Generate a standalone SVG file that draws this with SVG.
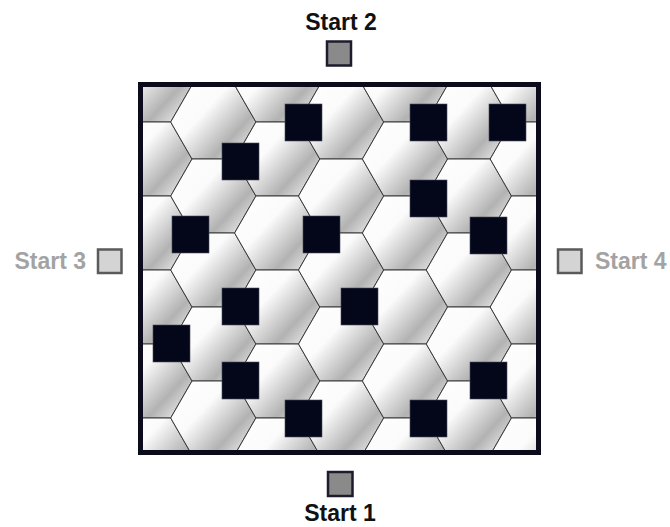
<svg xmlns="http://www.w3.org/2000/svg" xmlns:xlink="http://www.w3.org/1999/xlink" width="670" height="527" viewBox="0 0 670 527">
<style>
.hex{stroke:#3a3a3a;stroke-width:1}
.blk{fill:#04061a;stroke:#4a4a5a;stroke-width:0.6}
.lbl{font-family:"Liberation Sans",Arial,sans-serif;font-weight:bold;font-size:23px}
.dark{fill:#111111}
.light{fill:#a3a3a3}
</style>
<defs>
<linearGradient id="g1" x1="0" y1="0" x2="1" y2="0.8">
<stop offset="0" stop-color="#ffffff"/>
<stop offset="0.42" stop-color="#fbfbfb"/>
<stop offset="0.78" stop-color="#b2b2b2"/>
<stop offset="1" stop-color="#e8e8e8"/>
</linearGradient>
<path id="h" d="M42.6,0 L21.3,37 L-21.3,37 L-42.6,0 L-21.3,-37 L21.3,-37 Z" fill="url(#g1)" class="hex"/>
<clipPath id="fr"><rect x="143" y="87" width="393" height="363"/></clipPath>
</defs>
<rect width="670" height="527" fill="#ffffff"/>
<g id="tiles" clip-path="url(#fr)">
<use xlink:href="#h" x="149.4" y="85"/><use xlink:href="#h" x="149.4" y="159"/><use xlink:href="#h" x="149.4" y="233"/><use xlink:href="#h" x="149.4" y="307"/><use xlink:href="#h" x="149.4" y="381"/><use xlink:href="#h" x="149.4" y="455"/>
<use xlink:href="#h" x="213.3" y="122"/><use xlink:href="#h" x="213.3" y="196"/><use xlink:href="#h" x="213.3" y="270"/><use xlink:href="#h" x="213.3" y="344"/><use xlink:href="#h" x="213.3" y="418"/>
<use xlink:href="#h" x="277.2" y="85"/><use xlink:href="#h" x="277.2" y="159"/><use xlink:href="#h" x="277.2" y="233"/><use xlink:href="#h" x="277.2" y="307"/><use xlink:href="#h" x="277.2" y="381"/><use xlink:href="#h" x="277.2" y="455"/>
<use xlink:href="#h" x="341.1" y="122"/><use xlink:href="#h" x="341.1" y="196"/><use xlink:href="#h" x="341.1" y="270"/><use xlink:href="#h" x="341.1" y="344"/><use xlink:href="#h" x="341.1" y="418"/>
<use xlink:href="#h" x="405" y="85"/><use xlink:href="#h" x="405" y="159"/><use xlink:href="#h" x="405" y="233"/><use xlink:href="#h" x="405" y="307"/><use xlink:href="#h" x="405" y="381"/><use xlink:href="#h" x="405" y="455"/>
<use xlink:href="#h" x="468.9" y="122"/><use xlink:href="#h" x="468.9" y="196"/><use xlink:href="#h" x="468.9" y="270"/><use xlink:href="#h" x="468.9" y="344"/><use xlink:href="#h" x="468.9" y="418"/>
<use xlink:href="#h" x="532.8" y="85"/><use xlink:href="#h" x="532.8" y="159"/><use xlink:href="#h" x="532.8" y="233"/><use xlink:href="#h" x="532.8" y="307"/><use xlink:href="#h" x="532.8" y="381"/><use xlink:href="#h" x="532.8" y="455"/>
</g>
<g id="obstacles">
<rect class="blk" x="285" y="104" width="37" height="37"/>
<rect class="blk" x="410" y="104" width="37" height="37"/>
<rect class="blk" x="489" y="104" width="37" height="37"/>
<rect class="blk" x="222" y="143" width="37" height="37"/>
<rect class="blk" x="410" y="180" width="37" height="37"/>
<rect class="blk" x="172" y="216" width="37" height="37"/>
<rect class="blk" x="303" y="216" width="37" height="37"/>
<rect class="blk" x="470" y="217" width="37" height="37"/>
<rect class="blk" x="222" y="288" width="37" height="37"/>
<rect class="blk" x="341" y="288" width="37" height="37"/>
<rect class="blk" x="153" y="325" width="37" height="37"/>
<rect class="blk" x="222" y="362" width="37" height="37"/>
<rect class="blk" x="470" y="362" width="37" height="37"/>
<rect class="blk" x="285" y="400" width="37" height="37"/>
<rect class="blk" x="410" y="400" width="37" height="37"/>
</g>
<g id="frame">
<rect x="140.5" y="84.5" width="398" height="368" fill="none" stroke="#0a0c1c" stroke-width="5"/>
</g>
<g id="start2">
<rect x="327" y="41.5" width="24" height="24" fill="#8a8a8a" stroke="#1c1c2c" stroke-width="2.5"/>
<text class="lbl dark" x="341" y="30" text-anchor="middle">Start 2</text>
</g>
<g id="start1">
<rect x="328" y="472" width="24.5" height="24" fill="#8a8a8a" stroke="#1c1c2c" stroke-width="2.5"/>
<text class="lbl dark" x="340" y="521" text-anchor="middle">Start 1</text>
</g>
<g id="start3">
<rect x="98" y="249.5" width="23.5" height="23.5" fill="#d4d4d4" stroke="#5a5a5a" stroke-width="2.5"/>
<text class="lbl light" x="86" y="268.5" text-anchor="end">Start 3</text>
</g>
<g id="start4">
<rect x="558" y="249.5" width="23.5" height="23.5" fill="#d4d4d4" stroke="#5a5a5a" stroke-width="2.5"/>
<text class="lbl light" x="595" y="268.5">Start 4</text>
</g>
<g id="connectors"/>
</svg>
